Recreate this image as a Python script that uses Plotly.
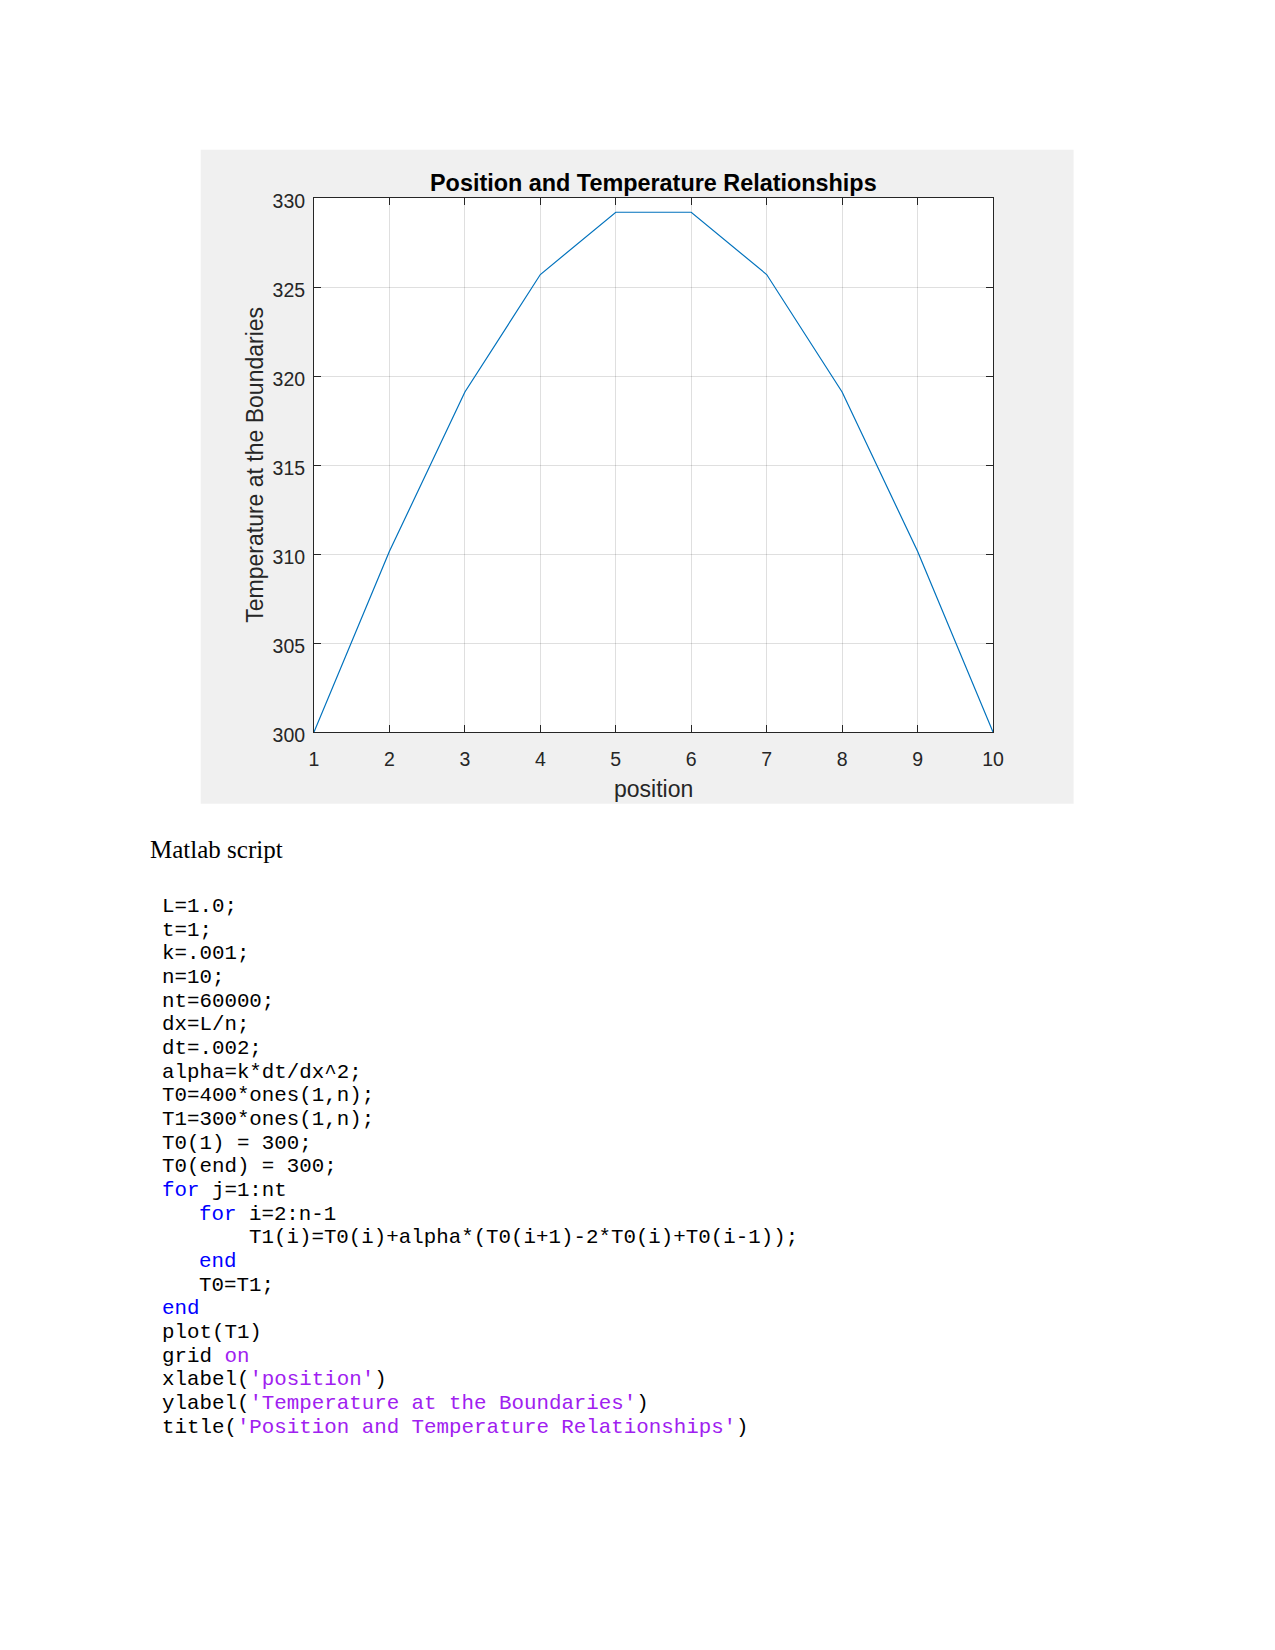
import plotly.graph_objects as go

# ---------------- data ----------------
positions = [1, 2, 3, 4, 5, 6, 7, 8, 9, 10]
temperature = [300.0, 310.15, 319.1, 325.7, 329.2, 329.2, 325.7, 319.1, 310.15, 300.0]
x_ticks = [1, 2, 3, 4, 5, 6, 7, 8, 9, 10]
y_ticks = [300, 305, 310, 315, 320, 325, 330]

chart_title = "Position and Temperature Relationships"
x_label = "position"
y_label = "Temperature at the Boundaries"
section_heading = "Matlab script"

# code lines: list of (indent, [(text, kind), ...]); kind: n=normal, k=keyword, s=string
code_lines = [
    (0, [("L=1.0;", "n")]),
    (0, [("t=1;", "n")]),
    (0, [("k=.001;", "n")]),
    (0, [("n=10;", "n")]),
    (0, [("nt=60000;", "n")]),
    (0, [("dx=L/n;", "n")]),
    (0, [("dt=.002;", "n")]),
    (0, [("alpha=k*dt/dx^2;", "n")]),
    (0, [("T0=400*ones(1,n);", "n")]),
    (0, [("T1=300*ones(1,n);", "n")]),
    (0, [("T0(1) = 300;", "n")]),
    (0, [("T0(end) = 300;", "n")]),
    (0, [("for", "k"), (" j=1:nt", "n")]),
    (3, [("for", "k"), (" i=2:n-1", "n")]),
    (7, [("T1(i)=T0(i)+alpha*(T0(i+1)-2*T0(i)+T0(i-1));", "n")]),
    (3, [("end", "k")]),
    (3, [("T0=T1;", "n")]),
    (0, [("end", "k")]),
    (0, [("plot(T1)", "n")]),
    (0, [("grid ", "n"), ("on", "s")]),
    (0, [("xlabel(", "n"), ("'position'", "s"), (")", "n")]),
    (0, [("ylabel(", "n"), ("'Temperature at the Boundaries'", "s"), (")", "n")]),
    (0, [("title(", "n"), ("'Position and Temperature Relationships'", "s"), (")", "n")]),
]

# ---------------- layout geometry (pixels) ----------------
W, H = 1275, 1650
PL, PR, PT, PB = 314.3, 993.4, 198.3, 732.3
FIG_BOX = (201, 150, 1074, 804)


def xp(px):
    return (px - PL) / (PR - PL)


def yp(py):
    return (PB - py) / (PB - PT)


AX = "#262626"
SANS = "Liberation Sans"

fig = go.Figure()
fig.add_trace(go.Scatter(
    x=positions, y=temperature, mode="lines",
    line=dict(color="#0072BD", width=1.2), showlegend=False, hoverinfo="skip",
))

axis_common = dict(
    showline=True, linecolor=AX, linewidth=1, mirror="ticks",
    ticks="inside", ticklen=7, tickwidth=1, tickcolor=AX,
    showgrid=True, gridcolor="rgba(38,38,38,0.15)", gridwidth=1,
    zeroline=False, tickfont=dict(family=SANS, size=19.5, color=AX),
)

fig.update_xaxes(range=[1, 10], tickvals=x_ticks, ticktext=[str(v) for v in x_ticks],
                 ticklabelstandoff=10, **axis_common)
fig.update_yaxes(range=[300, 330], tickvals=y_ticks, ticktext=[str(v) for v in y_ticks],
                 ticklabelstandoff=4, ticklabelshift=3, **axis_common)

shapes = [
    dict(type="rect", xref="paper", yref="paper", layer="below",
         x0=xp(FIG_BOX[0]), x1=xp(FIG_BOX[2]), y0=yp(FIG_BOX[3]), y1=yp(FIG_BOX[1]),
         fillcolor="#f0f0f0", line=dict(width=0)),
    dict(type="rect", xref="paper", yref="paper", layer="below",
         x0=0, x1=1, y0=0, y1=1, fillcolor="#ffffff", line=dict(width=0)),
]

annotations = []
# title
annotations.append(dict(text="<b>" + chart_title + "</b>", xref="paper", yref="paper",
                        x=xp((PL + PR) / 2), y=yp(183), xanchor="center", yanchor="middle",
                        showarrow=False, font=dict(family=SANS, size=23.4, color="#000000")))
# x label
annotations.append(dict(text=x_label, xref="paper", yref="paper",
                        x=xp(653.8), y=yp(789), xanchor="center", yanchor="middle",
                        showarrow=False, font=dict(family=SANS, size=23, color=AX)))
# y label
annotations.append(dict(text=y_label, xref="paper", yref="paper", textangle=-90,
                        x=xp(255), y=yp((PT + PB) / 2), xanchor="center", yanchor="middle",
                        showarrow=False, font=dict(family=SANS, size=23, color=AX)))
# heading
annotations.append(dict(text=section_heading, xref="paper", yref="paper",
                        x=xp(148), y=yp(850), xanchor="left", yanchor="middle",
                        showarrow=False, font=dict(family="Liberation Serif", size=25, color="#000000")))

COLORS = {"n": "#000000", "k": "#0000FF", "s": "#A020F0"}
MONO = 20.8
ADV = MONO * 0.6
first_baseline = 913.7
line_gap = 23.67
for i, (indent, parts) in enumerate(code_lines):
    html = "".join('<span style="color:%s">%s</span>' % (COLORS[k], t.replace(" ", "\u00a0")) for t, k in parts)
    baseline = first_baseline + i * line_gap
    annotations.append(dict(text=html, xref="paper", yref="paper",
                            x=xp(160 + indent * ADV), y=yp(baseline - 0.33 * MONO),
                            xanchor="left", yanchor="middle", showarrow=False,
                            font=dict(family="Liberation Mono", size=MONO, color="#000000")))

fig.update_layout(
    width=W, height=H, autosize=False,
    margin=dict(l=PL, r=W - PR, t=PT, b=H - PB, pad=0),
    paper_bgcolor="#ffffff", plot_bgcolor="#ffffff",
    shapes=shapes, annotations=annotations,
)

fig.write_html("out.html", include_plotlyjs=True, config={"displayModeBar": False})
